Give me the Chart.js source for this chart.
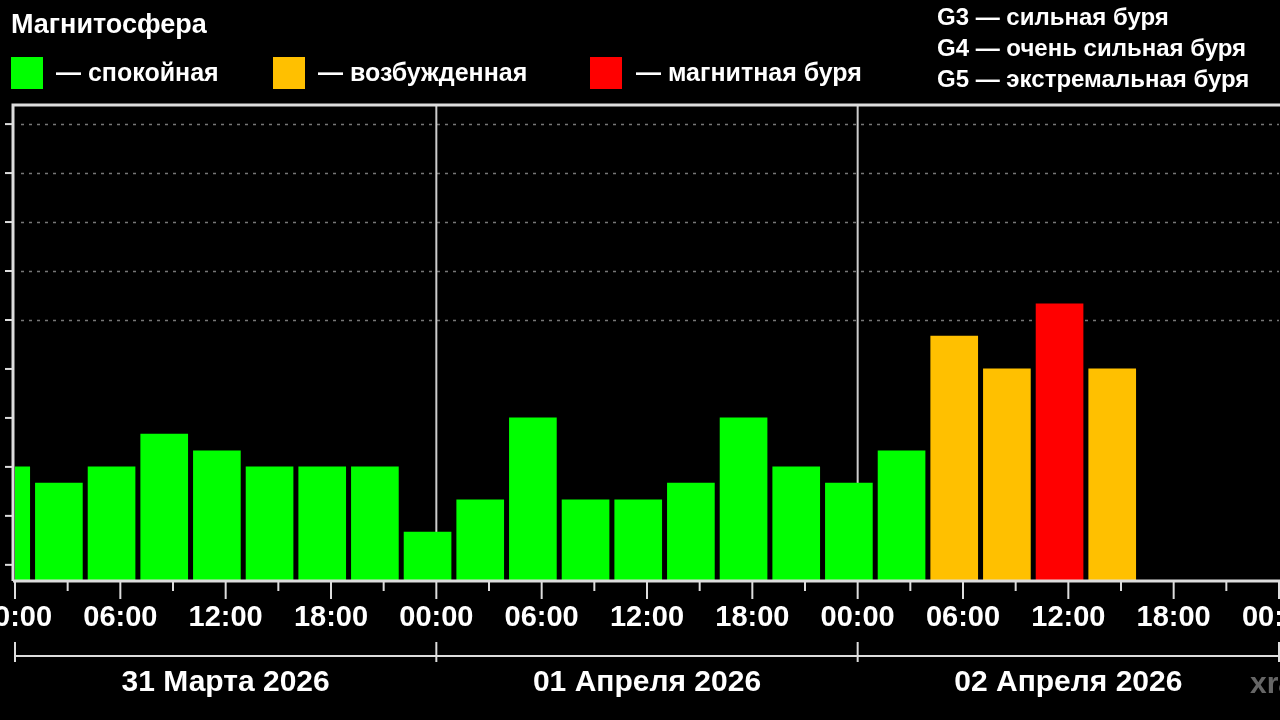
<!DOCTYPE html>
<html><head><meta charset="utf-8">
<script src="https://cdn.jsdelivr.net/npm/chart.js@4"></script>
<style>
body{margin:0;background:#000;width:1280px;height:720px;overflow:hidden;font-family:"Liberation Sans",Arial,sans-serif;font-weight:bold;color:#fff}
#c{position:absolute;left:0;top:0}
.t{position:absolute;white-space:nowrap}
.sq{position:absolute;width:32px;height:32px}
</style></head><body>
<canvas id="c" width="1280" height="720"></canvas>
<div class="t" style="left:11px;top:9px;font-size:27px">Магнитосфера</div>
<div class="sq" style="left:11px;top:57px;background:#00ff00"></div>
<div class="t" style="left:56px;top:58px;font-size:25px">— спокойная</div>
<div class="sq" style="left:273px;top:57px;background:#ffc000"></div>
<div class="t" style="left:318px;top:58px;font-size:25px">— возбужденная</div>
<div class="sq" style="left:590px;top:57px;background:#ff0000"></div>
<div class="t" style="left:636px;top:58px;font-size:25px">— магнитная буря</div>
<div class="t" style="left:937px;top:3px;font-size:24px">G3 — сильная буря</div>
<div class="t" style="left:937px;top:34px;font-size:24px">G4 — очень сильная буря</div>
<div class="t" style="left:937px;top:65px;font-size:24px">G5 — экстремальная буря</div>
<script>
const barHours = [-0.5,2.5,5.5,8.5,11.5,14.5,17.5,20.5,23.5,26.5,29.5,32.5,35.5,38.5,41.5,44.5,47.5,50.5,53.5,56.5,59.5,62.5];
const kpValues = [2,1.67,2,2.67,2.33,2,2,2,0.67,1.33,3,1.33,1.33,1.67,3,2,1.67,2.33,4.67,4,5.33,4];
const kpLevel = ['q','q','q','q','q','q','q','q','q','q','q','q','q','q','q','q','q','q','a','a','s','a'];
const levelColors = {q:'#00ff00',a:'#ffc000',s:'#ff0000'};
const hourTickLabels = ['00:00','06:00','12:00','18:00','00:00','06:00','12:00','18:00','00:00','06:00','12:00','18:00','00:00'];
const dayLabels = ['31 Марта 2026','01 Апреля 2026','02 Апреля 2026'];
const yMin = -0.33, yMax = 9.39;

const overlay = {
  id:'overlay',
  beforeDatasetsDraw(ch){
    const c=ch.ctx, x=ch.scales.x, y=ch.scales.y, a=ch.chartArea;
    c.save();
    c.strokeStyle='#777'; c.lineWidth=1.5; c.setLineDash([3,5]);
    for(let v=5;v<=9;v++){const p=Math.round(y.getPixelForValue(v))+0.5;c.beginPath();c.moveTo(a.left+6,p);c.lineTo(a.right,p);c.stroke();}
    c.setLineDash([]);
    c.strokeStyle='#ccc'; c.lineWidth=2;
    [24,48].forEach(h=>{const p=x.getPixelForValue(h);c.beginPath();c.moveTo(p,a.top);c.lineTo(p,a.bottom);c.stroke();});
    c.restore();
  },
  afterDraw(ch){
    const c=ch.ctx, x=ch.scales.x, y=ch.scales.y, a=ch.chartArea;
    c.save();
    c.strokeStyle='#ddd'; c.lineWidth=3;
    c.beginPath();c.moveTo(a.left-2,a.bottom);c.lineTo(a.left-2,a.top);c.lineTo(a.right+2,a.top);c.stroke();
    c.beginPath();c.moveTo(a.left-2,a.bottom);c.lineTo(a.right+2,a.bottom);c.stroke();
    c.lineWidth=2;
    for(let v=0;v<=9;v++){const p=y.getPixelForValue(v);c.beginPath();c.moveTo(a.left-10,p);c.lineTo(a.left-2,p);c.stroke();}
    for(let h=0;h<=72;h+=3){const p=x.getPixelForValue(h);c.beginPath();c.moveTo(p,a.bottom);c.lineTo(p,a.bottom+(h%6===0?18:10));c.stroke();}
    c.fillStyle='#fff'; c.font='bold 29px "Liberation Sans", Arial'; c.textAlign='center'; c.textBaseline='middle';
    hourTickLabels.forEach((l,i)=>c.fillText(l,x.getPixelForValue(i*6),618));
    const by=656;
    c.beginPath();c.moveTo(x.getPixelForValue(0),by);c.lineTo(x.getPixelForValue(72),by);c.stroke();
    [0,24,48,72].forEach(h=>{const p=x.getPixelForValue(h);c.beginPath();c.moveTo(p,by-14);c.lineTo(p,by+6);c.stroke();});
    c.font='bold 30px "Liberation Sans", Arial';
    dayLabels.forEach((l,i)=>c.fillText(l,x.getPixelForValue(i*24+12),683));
    c.fillStyle='#666'; c.textAlign='left'; c.fillText('xras',1250,685);
    c.restore();
  }
};

new Chart(document.getElementById('c'),{
  type:'bar',
  data:{datasets:[{
    data:barHours.map((h,i)=>({x:h,y:kpValues[i]})),
    backgroundColor:kpLevel.map(l=>levelColors[l]),
    base:yMin, barThickness:47, borderWidth:0
  }]},
  options:{
    responsive:false, animation:false,
    layout:{padding:{left:15,top:105,right:1,bottom:139}},
    plugins:{legend:{display:false},tooltip:{enabled:false}},
    scales:{
      x:{type:'linear',min:0,max:72,display:false,offset:false,grid:{offset:false}},
      y:{min:yMin,max:yMax,display:false}
    }
  },
  plugins:[overlay]
});
</script>
</body></html>
